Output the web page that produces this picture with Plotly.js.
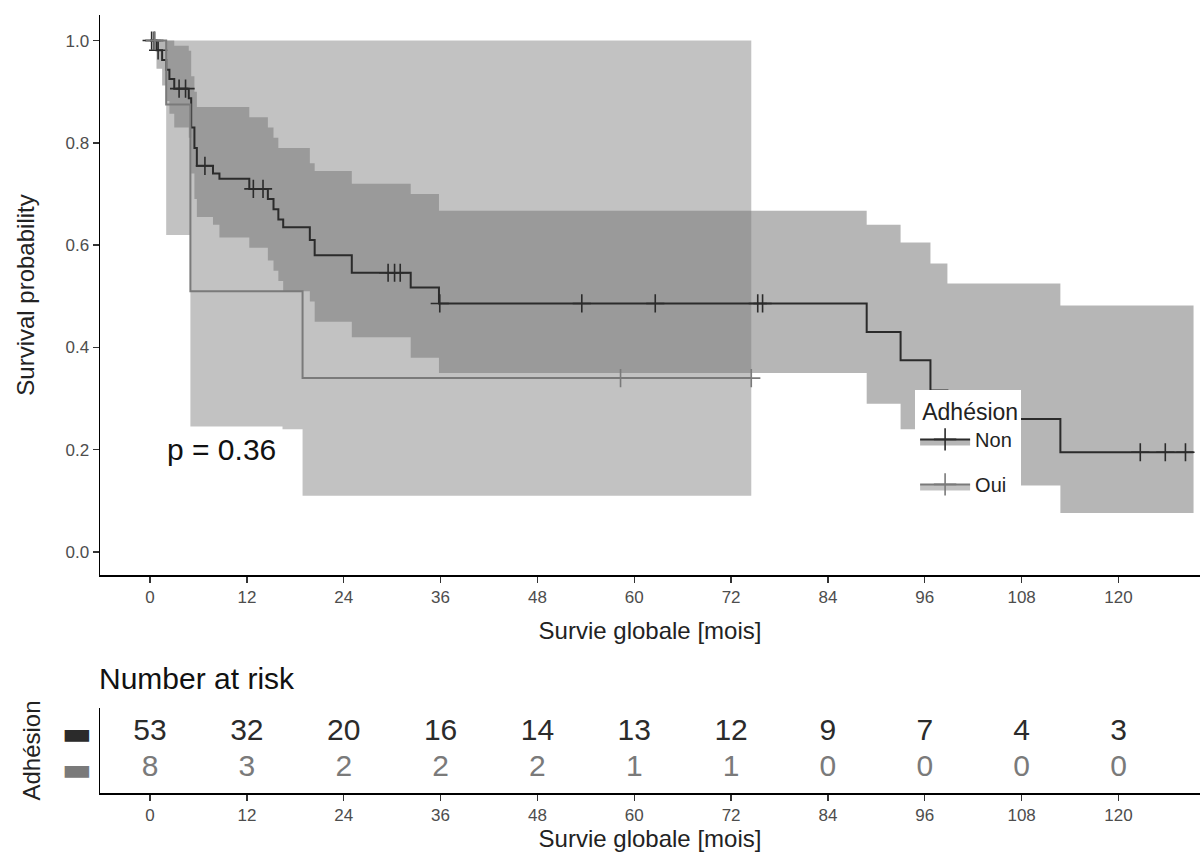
<!DOCTYPE html>
<html>
<head>
<meta charset="utf-8">
<script src="https://cdn.plot.ly/plotly-3.0.1.min.js"></script>
<style>body{margin:0;background:#fff}#chart{width:1201px;height:862px}</style>
</head>
<body>
<div id="chart"></div>
<script>
// ---- Data ----
// Kaplan-Meier step data, group "Non"
const nonTime  = [0, 0.8, 1.5, 2.0, 2.4, 3.0, 4.8, 5.1, 5.5, 5.8, 7.8, 8.6, 12.3, 14.6, 15.3, 15.9, 16.5, 19.8, 20.4, 25.0, 32.3, 35.8, 88.8, 93.0, 96.7, 98.8, 112.8];
const nonSurv  = [1.0, 0.981, 0.962, 0.943, 0.925, 0.906, 0.887, 0.83, 0.79, 0.755, 0.74, 0.73, 0.71, 0.69, 0.67, 0.65, 0.635, 0.61, 0.58, 0.546, 0.517, 0.486, 0.43, 0.375, 0.316, 0.26, 0.195];
const nonUpper = [1.0, 1.0, 1.0, 1.0, 1.0, 0.99, 0.98, 0.93, 0.90, 0.87, 0.87, 0.87, 0.85, 0.83, 0.81, 0.79, 0.79, 0.76, 0.745, 0.72, 0.70, 0.667, 0.64, 0.605, 0.564, 0.525, 0.482];
const nonLower = [1.0, 0.945, 0.912, 0.882, 0.857, 0.83, 0.81, 0.74, 0.69, 0.655, 0.64, 0.615, 0.595, 0.57, 0.55, 0.53, 0.51, 0.49, 0.45, 0.42, 0.38, 0.35, 0.29, 0.24, 0.18, 0.13, 0.076];
const nonEnd = 129.3;
const nonCensor = [0.2, 0.5, 1.0, 3.6, 4.4, 6.8, 12.8, 14.0, 29.5, 30.3, 31.0, 35.9, 53.5, 62.6, 75.3, 75.9, 122.7, 125.8, 128.3];

// group "Oui"
const ouiTime  = [0, 2.0, 5.0, 18.9];
const ouiSurv  = [1.0, 0.875, 0.51, 0.34];
const ouiUpper = [1.0, 1.0, 1.0, 1.0];
const ouiLower = [1.0, 0.62, 0.24, 0.11];
const ouiEnd = 74.5;
const ouiCensor = [0.6, 58.3, 74.5];

// number at risk table
const riskTimes = [0, 12, 24, 36, 48, 60, 72, 84, 96, 108, 120];
const riskNon = [53, 32, 20, 16, 14, 13, 12, 9, 7, 4, 3];
const riskOui = [8, 3, 2, 2, 2, 1, 1, 0, 0, 0, 0];
const tickVals = [0, 12, 24, 36, 48, 60, 72, 84, 96, 108, 120];
const yTicks = [0, 0.2, 0.4, 0.6, 0.8, 1.0];
const pText = 'p = 0.36';

// ---- helpers ----
const FONT = 'Liberation Sans, Arial, sans-serif';
const colNon = '#2b2b2b', colOui = '#7a7a7a';
const fillNon = 'rgba(80,80,80,0.42)', fillOui = 'rgba(120,120,120,0.45)';
function ext(a, endT) { return a.concat([endT]); }
function extv(a) { return a.concat([a[a.length - 1]]); }
function stepAt(times, vals, t) {
  let v = vals[0];
  for (let i = 0; i < times.length; i++) if (times[i] <= t) v = vals[i];
  return v;
}

const traces = [];
function band(times, up, lo, endT, fill) {
  traces.push({x: ext(times, endT), y: extv(up), mode: 'lines', line: {width: 0, shape: 'hv'},
    showlegend: false, hoverinfo: 'skip', xaxis: 'x', yaxis: 'y'});
  traces.push({x: ext(times, endT), y: extv(lo), mode: 'lines', line: {width: 0, shape: 'hv'},
    fill: 'tonexty', fillcolor: fill, showlegend: false, hoverinfo: 'skip', xaxis: 'x', yaxis: 'y'});
}
band(nonTime, nonUpper, nonLower, nonEnd, fillNon);
band(ouiTime, ouiUpper, ouiLower, ouiEnd, fillOui);

function curve(times, surv, endT, col, cens) {
  traces.push({x: ext(times, endT), y: extv(surv), mode: 'lines', line: {color: col, width: 2, shape: 'hv'},
    showlegend: false, xaxis: 'x', yaxis: 'y'});
  traces.push({x: cens, y: cens.map(t => stepAt(times, surv, t)), mode: 'markers',
    marker: {symbol: 'cross-thin', size: 13, line: {color: col, width: 1.6}},
    showlegend: false, xaxis: 'x', yaxis: 'y'});
}
curve(nonTime, nonSurv, nonEnd, colNon, nonCensor);
curve(ouiTime, ouiSurv, ouiEnd, colOui, ouiCensor);

// legend entries
traces.push({x: [null], y: [null], name: 'Non', legendgroup: 'non', mode: 'lines+markers', fill: 'toself',
  fillcolor: fillNon, line: {color: colNon, width: 2},
  marker: {symbol: 'cross-thin', size: 18, line: {color: colNon, width: 1.6}}, xaxis: 'x', yaxis: 'y'});
traces.push({x: [null], y: [null], name: 'Oui', legendgroup: 'oui', mode: 'lines+markers', fill: 'toself',
  fillcolor: fillOui, line: {color: colOui, width: 2},
  marker: {symbol: 'cross-thin', size: 18, line: {color: colOui, width: 1.6}}, xaxis: 'x', yaxis: 'y'});

// risk table
traces.push({x: riskTimes, y: riskTimes.map(() => 2), text: riskNon.map(String), mode: 'text',
  textfont: {size: 30, color: colNon, family: FONT}, showlegend: false, xaxis: 'x2', yaxis: 'y2', cliponaxis: false});
traces.push({x: riskTimes, y: riskTimes.map(() => 1), text: riskOui.map(String), mode: 'text',
  textfont: {size: 30, color: colOui, family: FONT}, showlegend: false, xaxis: 'x2', yaxis: 'y2', cliponaxis: false});

const axBase = {showline: true, linecolor: '#000', linewidth: 1.5, ticks: 'outside', ticklen: 6,
  tickcolor: '#333', tickwidth: 1.3, showgrid: false, zeroline: false,
  tickfont: {size: 17, color: '#4d4d4d', family: FONT}};

const layout = {
  width: 1201, height: 862,
  margin: {l: 100, r: 1, t: 15, b: 69},
  paper_bgcolor: '#fff', plot_bgcolor: '#fff',
  font: {family: FONT, color: '#000'},
  xaxis: Object.assign({}, axBase, {domain: [0, 1], range: [-6.2, 130.1], tickvals: tickVals, anchor: 'y',
    title: {text: 'Survie globale [mois]', font: {size: 24, color: '#222'}, standoff: 16}}),
  yaxis: Object.assign({}, axBase, {domain: [0.2802, 1], range: [-0.045, 1.05], tickvals: yTicks,
    ticktext: yTicks.map(v => v.toFixed(1)), anchor: 'x',
    title: {text: 'Survival probability', font: {size: 24, color: '#222'}, standoff: 24}}),
  xaxis2: Object.assign({}, axBase, {domain: [0, 1], range: [-6.2, 130.1], tickvals: tickVals, anchor: 'y2',
    title: {text: 'Survie globale [mois]', font: {size: 24, color: '#222'}, standoff: 6}}),
  yaxis2: Object.assign({}, axBase, {domain: [0, 0.1093], range: [0.333, 2.694], tickvals: [1, 2],
    ticktext: ['<span style="color:' + colOui + '">▬</span>', '<span style="color:' + colNon + '">▬</span>'],
    ticks: '', tickfont: {size: 32, family: 'DejaVu Sans'}, anchor: 'x2',
    title: {text: 'Adhésion', font: {size: 24, color: '#222'}, standoff: 14}}),
  legend: {x: 0.741, y: 0.518, xanchor: 'left', yanchor: 'top', bgcolor: '#fff', traceorder: 'grouped',
    title: {text: ' Adhésion', font: {size: 23, color: '#222'}},
    font: {size: 20, color: '#222'}, itemwidth: 50, tracegroupgap: 16},
  annotations: [
    {text: pText, xref: 'x', yref: 'y', x: 1.2, y: 0.2, xanchor: 'left', yanchor: 'middle',
      showarrow: false, font: {size: 30, color: '#111'}, bgcolor: '#fff', borderpad: 6},
    {text: 'Number at risk', xref: 'paper', yref: 'paper', x: -0.0027, y: 0.1478,
      xanchor: 'left', yanchor: 'middle', showarrow: false, font: {size: 30, color: '#111'}}
  ],
  showlegend: true
};

Plotly.newPlot('chart', traces, layout, {displayModeBar: false, staticPlot: true});
</script>
</body>
</html>
